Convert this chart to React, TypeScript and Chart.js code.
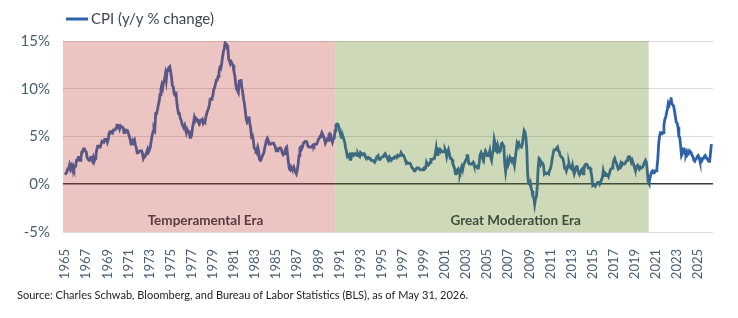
import { useEffect, useRef } from "react";
import { Chart, registerables } from "chart.js";

Chart.register(...registerables);

// Monthly CPI, year-over-year % change, starting January 1965
const firstYear = 1965;

const cpi1960s = [
  1.0, 1.0, 1.3, 1.6, 1.6, 2.0, 1.6, 1.9, 1.6, 1.9, 1.6, 1.9,
  1.9, 2.5, 2.5, 2.8, 2.8, 2.5, 2.8, 3.4, 3.4, 3.7, 3.7, 3.5,
  3.4, 2.8, 2.8, 2.5, 2.5, 2.8, 2.8, 2.5, 2.8, 2.4, 2.7, 3.0,
  3.6, 4.0, 4.0, 3.9, 3.9, 4.2, 4.5, 4.5, 4.4, 4.7, 4.7, 4.7,
  4.4, 4.7, 5.3, 5.5, 5.5, 5.5, 5.4, 5.7, 5.7, 5.7, 5.9, 6.2,
];

const cpi1970s = [
  6.2, 6.1, 5.8, 6.1, 6.0, 6.0, 5.9, 5.4, 5.7, 5.7, 5.6, 5.6,
  5.3, 5.0, 4.7, 4.2, 4.4, 4.6, 4.4, 4.6, 4.1, 3.8, 3.3, 3.3,
  3.3, 3.5, 3.5, 3.5, 3.2, 2.7, 2.9, 2.9, 3.2, 3.4, 3.7, 3.4,
  3.6, 3.9, 4.6, 5.1, 5.5, 5.9, 5.7, 7.4, 7.4, 7.8, 8.3, 8.7,
  9.4, 10.0, 10.4, 10.1, 10.7, 10.9, 11.5, 10.9, 11.9, 12.1, 12.2, 12.3,
  11.8, 11.2, 10.3, 10.2, 9.5, 9.3, 9.7, 8.6, 7.9, 7.4, 7.4, 6.9,
  6.7, 6.3, 6.1, 6.0, 6.2, 5.9, 5.4, 5.7, 5.5, 5.5, 4.9, 4.9,
  5.2, 6.0, 6.4, 7.0, 6.7, 6.9, 6.8, 6.6, 6.6, 6.4, 6.7, 6.7,
  6.8, 6.4, 6.6, 6.5, 7.0, 7.4, 7.7, 7.9, 8.3, 8.9, 8.9, 9.0,
  9.3, 9.9, 10.1, 10.5, 10.9, 10.9, 11.3, 11.8, 12.2, 12.1, 12.6, 13.3,
];

const cpi1980s = [
  13.9, 14.2, 14.8, 14.7, 14.4, 14.4, 13.1, 12.9, 12.6, 12.8, 12.6, 12.5,
  11.8, 11.4, 10.5, 10.0, 9.8, 9.6, 10.8, 10.8, 11.0, 10.1, 9.6, 8.9,
  8.4, 7.6, 6.8, 6.5, 6.7, 7.1, 6.4, 5.9, 5.0, 5.1, 4.6, 3.8,
  3.7, 3.5, 3.6, 3.9, 3.5, 2.6, 2.5, 2.6, 2.9, 2.9, 3.3, 3.8,
  4.2, 4.6, 4.8, 4.6, 4.2, 4.2, 4.2, 4.3, 4.3, 4.3, 4.1, 3.9,
  3.5, 3.5, 3.7, 3.7, 3.8, 3.8, 3.6, 3.3, 3.1, 3.2, 3.5, 3.8,
  3.9, 3.1, 2.3, 1.6, 1.5, 1.8, 1.6, 1.6, 1.8, 1.5, 1.3, 1.1,
  1.5, 2.1, 3.0, 3.8, 3.9, 3.7, 3.9, 4.3, 4.4, 4.5, 4.5, 4.4,
  4.0, 3.9, 3.9, 3.9, 3.9, 4.0, 4.1, 4.0, 4.2, 4.2, 4.2, 4.4,
  4.7, 4.8, 5.0, 5.1, 5.4, 5.2, 5.0, 4.7, 4.3, 4.5, 4.7, 4.6,
];

const cpi1990s = [
  5.2, 5.3, 5.2, 4.7, 4.4, 4.7, 4.8, 5.6, 6.2, 6.3, 6.3, 6.1,
  5.7, 5.3, 4.9, 4.9, 5.0, 4.7, 4.4, 3.8, 3.4, 2.9, 3.0, 3.1,
  2.6, 2.8, 3.2, 3.2, 3.0, 3.1, 3.2, 3.1, 3.0, 3.2, 3.0, 2.9,
  3.3, 3.2, 3.1, 3.2, 3.2, 3.0, 2.8, 2.8, 2.7, 2.8, 2.7, 2.7,
  2.5, 2.5, 2.5, 2.4, 2.3, 2.5, 2.8, 2.9, 3.0, 2.6, 2.7, 2.7,
  2.8, 2.9, 2.9, 3.1, 3.2, 3.0, 2.8, 2.6, 2.5, 2.8, 2.6, 2.5,
  2.7, 2.7, 2.8, 2.9, 2.9, 2.8, 3.0, 2.9, 3.0, 3.0, 3.3, 3.3,
  3.0, 3.0, 2.8, 2.5, 2.2, 2.3, 2.2, 2.2, 2.2, 2.1, 1.8, 1.7,
  1.6, 1.4, 1.4, 1.4, 1.7, 1.7, 1.7, 1.6, 1.5, 1.5, 1.5, 1.6,
  1.7, 1.6, 1.7, 2.3, 2.1, 2.0, 2.1, 2.3, 2.6, 2.6, 2.6, 2.7,
];

const cpi2000s = [
  2.7, 3.2, 3.8, 3.1, 3.2, 3.7, 3.7, 3.4, 3.5, 3.4, 3.4, 3.4,
  3.7, 3.5, 2.9, 3.3, 3.6, 3.2, 2.7, 2.7, 2.6, 2.1, 1.9, 1.6,
  1.1, 1.1, 1.5, 1.6, 1.2, 1.1, 1.5, 1.8, 1.5, 2.0, 2.2, 2.4,
  2.6, 3.0, 3.0, 2.2, 2.1, 2.1, 2.1, 2.2, 2.3, 2.0, 1.8, 1.9,
  1.9, 1.7, 1.7, 2.3, 3.1, 3.3, 3.0, 2.7, 2.5, 3.2, 3.5, 3.3,
  3.0, 3.0, 3.1, 3.5, 2.8, 2.5, 3.2, 3.6, 4.7, 4.3, 3.5, 3.4,
  4.0, 3.6, 3.4, 3.5, 4.2, 4.3, 4.1, 3.8, 2.1, 1.3, 2.0, 2.5,
  2.1, 2.4, 2.8, 2.6, 2.7, 2.7, 2.4, 2.0, 2.8, 3.5, 4.3, 4.1,
  4.3, 4.0, 4.0, 3.9, 4.2, 5.0, 5.6, 5.4, 4.9, 3.7, 1.1, 0.1,
  0.0, 0.2, -0.4, -0.7, -1.3, -1.4, -2.1, -1.5, -1.3, -0.2, 1.8, 2.7,
];

const cpi2010s = [
  2.6, 2.1, 2.3, 2.2, 2.0, 1.1, 1.2, 1.1, 1.1, 1.2, 1.1, 1.5,
  1.6, 2.1, 2.7, 3.2, 3.6, 3.6, 3.6, 3.8, 3.9, 3.5, 3.4, 3.0,
  2.9, 2.9, 2.7, 2.3, 1.7, 1.7, 1.4, 1.7, 2.0, 2.2, 1.8, 1.7,
  1.6, 2.0, 1.5, 1.1, 1.4, 1.8, 2.0, 1.5, 1.2, 1.0, 1.2, 1.5,
  1.6, 1.1, 1.5, 2.0, 2.1, 2.1, 2.0, 1.7, 1.7, 1.7, 1.3, 0.8,
  -0.1, 0.0, -0.1, -0.2, 0.0, 0.1, 0.2, 0.2, 0.0, 0.2, 0.5, 0.7,
  1.4, 1.0, 0.9, 1.1, 1.0, 1.0, 0.8, 1.1, 1.5, 1.6, 1.7, 2.1,
  2.5, 2.7, 2.4, 2.2, 1.9, 1.6, 1.7, 1.9, 2.2, 2.0, 2.2, 2.1,
  2.1, 2.2, 2.4, 2.5, 2.8, 2.9, 2.9, 2.7, 2.3, 2.5, 2.2, 1.9,
  1.6, 1.5, 1.9, 2.0, 1.8, 1.6, 1.8, 1.7, 1.7, 1.8, 2.1, 2.3,
];

const cpi2020s = [
  2.5, 2.3, 1.5, 0.3, 0.1, 0.6, 1.0, 1.3, 1.4, 1.2, 1.2, 1.4,
  1.4, 1.7, 2.6, 4.2, 5.0, 5.4, 5.4, 5.3, 5.4, 6.2, 6.8, 7.0,
  7.5, 7.9, 8.5, 8.3, 8.6, 9.1, 8.5, 8.3, 8.2, 7.7, 7.1, 6.5,
  6.4, 6.0, 5.0, 4.9, 4.0, 3.0, 3.2, 3.7, 3.7, 3.2, 3.1, 3.4,
  3.1, 3.2, 3.5, 3.4, 3.3, 3.0, 2.9, 2.5, 2.4, 2.6, 2.7, 2.9,
  3.0, 2.8, 2.4, 2.3, 2.4, 2.7, 2.7, 2.9, 3.0, 2.8, 2.7, 2.7,
  2.4, 2.4, 3.3, 4.2,
];

const cpiMonthly = [
  ...cpi1960s, ...cpi1970s, ...cpi1980s, ...cpi1990s,
  ...cpi2000s, ...cpi2010s, ...cpi2020s,
];

// Axis ticks
const xTickYears = [
  1965, 1967, 1969, 1971, 1973, 1975, 1977, 1979, 1981, 1983, 1985, 1987,
  1989, 1991, 1993, 1995, 1997, 1999, 2001, 2003, 2005, 2007, 2009, 2011,
  2013, 2015, 2017, 2019, 2021, 2023, 2025,
];
const yTicks = [-5, 0, 5, 10, 15];

// Eras shaded over the series
const eraNames = ["Temperamental Era", "Great Moderation Era"];
const eraStarts = [1964.8, 1990.6];
const eraEnds = [1990.6, 2020.3];
const eraFills = ["rgba(192, 58, 52, 0.3)", "rgba(92, 128, 28, 0.3)"];
const eraLabelX = [1978.3, 2007.7];
const eraLabelY = -3.85;

const seriesLabel = "CPI (y/y % change)";
const sourceNote =
  "Source: Charles Schwab, Bloomberg, and Bureau of Labor Statistics (BLS), as of May 31, 2026.";

const FONT = "Lato, 'Open Sans', sans-serif";
const LINE_COLOR = "#2e62a8";
const TICK_COLOR = "#4b5f73";

export default function App() {
  const canvasRef = useRef<HTMLCanvasElement | null>(null);

  useEffect(() => {
    const canvas = canvasRef.current;
    if (!canvas) return;

    const points = cpiMonthly.map((v, i) => ({ x: firstYear + i / 12, y: v }));

    const erasPlugin = {
      id: "eras",
      afterDatasetsDraw(chart: any) {
        const { ctx, chartArea, scales } = chart;
        const xs = scales.x;
        const ys = scales.y;
        ctx.save();
        // era captions, tinted by the band overlay drawn afterwards
        ctx.font = `bold 13.5px ${FONT}`;
        ctx.fillStyle = "#2f3a48";
        ctx.textAlign = "center";
        ctx.textBaseline = "middle";
        eraNames.forEach((name, i) => {
          ctx.fillText(name, xs.getPixelForValue(eraLabelX[i]), ys.getPixelForValue(eraLabelY));
        });
        eraNames.forEach((_, i) => {
          const x0 = Math.max(chartArea.left, xs.getPixelForValue(eraStarts[i]));
          const x1 = xs.getPixelForValue(eraEnds[i]);
          ctx.fillStyle = eraFills[i];
          ctx.fillRect(x0, chartArea.top, x1 - x0, chartArea.bottom - chartArea.top);
        });
        ctx.restore();
      },
      afterDraw(chart: any) {
        const { ctx } = chart;
        ctx.save();
        // legend
        ctx.strokeStyle = LINE_COLOR;
        ctx.lineWidth = 3;
        ctx.beginPath();
        ctx.moveTo(66, 19);
        ctx.lineTo(88, 19);
        ctx.stroke();
        ctx.font = `15px ${FONT}`;
        ctx.fillStyle = "#3c4655";
        ctx.textAlign = "left";
        ctx.textBaseline = "middle";
        ctx.fillText(seriesLabel, 91, 19);
        // source line
        ctx.font = `11px ${FONT}`;
        ctx.fillStyle = "#222222";
        ctx.fillText(sourceNote, 17, 295);
        ctx.restore();
      },
    };

    const chart = new Chart(canvas, {
      type: "line",
      data: {
        datasets: [
          {
            label: seriesLabel,
            data: points,
            borderColor: LINE_COLOR,
            borderWidth: 2.8,
            pointRadius: 0,
            tension: 0,
            fill: false,
          },
        ],
      },
      options: {
        responsive: false,
        animation: false,
        layout: { padding: { top: 41, right: 25, left: 0, bottom: 0 } },
        plugins: {
          legend: { display: false },
          tooltip: { enabled: false },
        },
        scales: {
          x: {
            type: "linear",
            min: 1964.8,
            max: 2026.4,
            afterBuildTicks: (s: any) => {
              s.ticks = xTickYears.map((value) => ({ value }));
            },
            afterFit: (s: any) => {
              s.height = 86;
            },
            grid: { display: false },
            border: { display: false },
            ticks: {
              autoSkip: false,
              minRotation: 90,
              maxRotation: 90,
              padding: 9,
              color: TICK_COLOR,
              font: { family: FONT, size: 13 },
              callback: (v: any) => String(v),
            },
          },
          y: {
            min: -5,
            max: 15,
            afterBuildTicks: (s: any) => {
              s.ticks = yTicks.map((value) => ({ value }));
            },
            afterFit: (s: any) => {
              s.width = 63;
            },
            border: { display: false },
            grid: {
              drawTicks: false,
              color: (c: any) => (c.tick && c.tick.value === 0 ? "#353a44" : "#d9d9d9"),
              lineWidth: (c: any) => (c.tick && c.tick.value === 0 ? 1.6 : 1),
            },
            ticks: {
              padding: 13,
              color: TICK_COLOR,
              font: { family: FONT, size: 15 },
              callback: (v: any) => `${v}%`,
            },
          },
        },
      },
      plugins: [erasPlugin],
    });

    return () => chart.destroy();
  }, []);

  return (
    <div style={{ position: "fixed", left: 0, top: 0, width: 738, height: 318, background: "#fff" }}>
      <canvas ref={canvasRef} width={738} height={318} />
    </div>
  );
}
